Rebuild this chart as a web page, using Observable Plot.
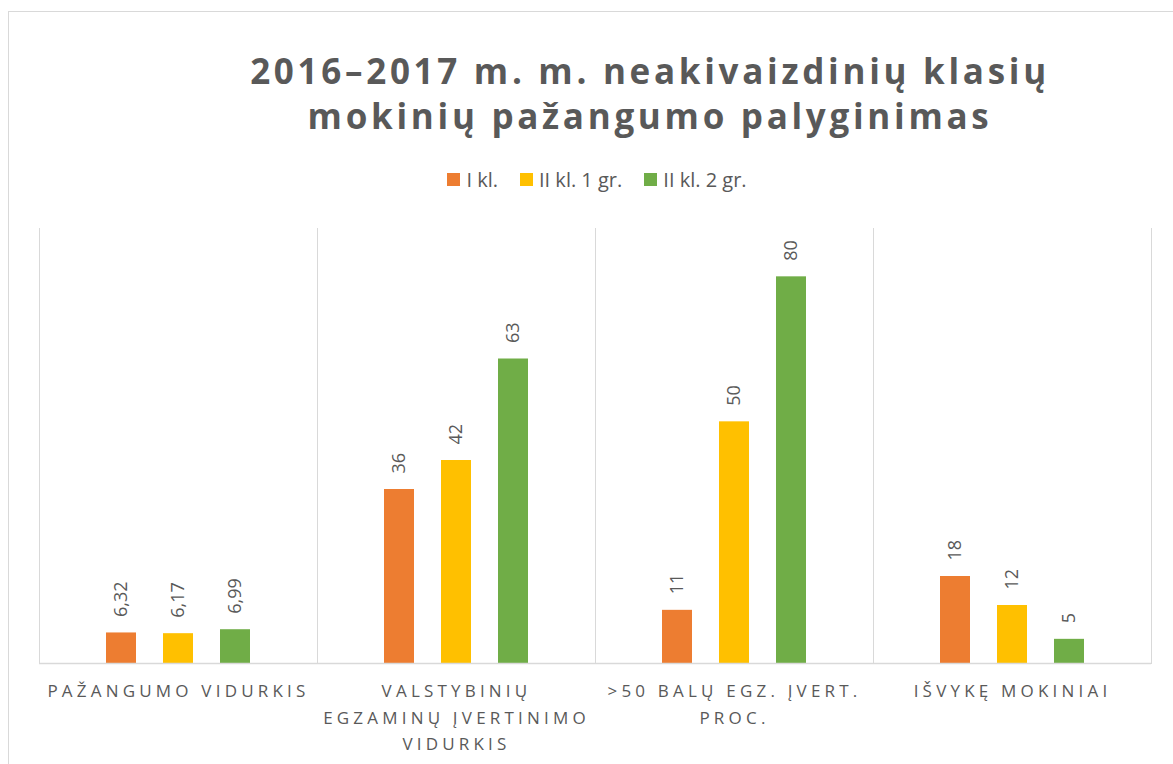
<!DOCTYPE html>
<html>
<head>
<meta charset="utf-8">
<script src="https://cdn.jsdelivr.net/npm/d3@7"></script>
<script src="https://cdn.jsdelivr.net/npm/@observablehq/plot@0.6"></script>
<style>
  html, body { margin: 0; padding: 0; background: #fff; }
  body { font-family: "Open Sans", sans-serif; }
  #wrap { position: relative; width: 1173px; height: 764px; overflow: hidden; }
  #border { position: absolute; left: 8px; top: 11px; width: 1300px; height: 900px; border: 1px solid #d9d9d9; box-sizing: border-box; }
  #title { position: absolute; left: 0; top: 48px; width: 1300px; text-align: center; font-weight: 700; font-size: 35px; line-height: 45px; color: #595959; letter-spacing: 3.7px; }
  #legend { position: absolute; left: 0; top: 166px; width: 1194px; display: flex; justify-content: center; gap: 22px; font-size: 20px; color: #595959; }
  #legend .item { display: flex; align-items: center; gap: 6px; }
  #legend .sw { width: 13px; height: 13px; display: inline-block; }
  #chart { position: absolute; left: 0; top: 200px; }
  g[aria-label="fx-axis tick label"] text { letter-spacing: 4.2px; }
</style>
</head>
<body>
<div id="wrap">
  <div id="border"></div>
  <div id="title">2016–2017 m. m. neakivaizdinių klasių<br>mokinių pažangumo palyginimas</div>
  <div id="legend"></div>
  <div id="chart"></div>
</div>
<script>
const categories = ["PAŽANGUMO VIDURKIS", "VALSTYBINIŲ EGZAMINŲ ĮVERTINIMO VIDURKIS", ">50 BALŲ EGZ. ĮVERT. PROC.", "IŠVYKĘ MOKINIAI"];
const categoryLines = ["PAŽANGUMO VIDURKIS", "VALSTYBINIŲ\nEGZAMINŲ ĮVERTINIMO\nVIDURKIS", ">50 BALŲ EGZ. ĮVERT.\nPROC.", "IŠVYKĘ MOKINIAI"];
const series = ["I kl.", "II kl. 1 gr.", "II kl. 2 gr."];
const valuesIkl = [6.32, 36, 11, 18];
const valuesIIkl1 = [6.17, 42, 50, 12];
const valuesIIkl2 = [6.99, 63, 80, 5];
const colors = ["#ED7D31", "#FFC000", "#70AD47"];

const seriesValues = [valuesIkl, valuesIIkl1, valuesIIkl2];
const data = [];
categories.forEach((c, ci) => {
  series.forEach((s, si) => {
    data.push({cat: c, series: s, value: seriesValues[si][ci]});
  });
});
const fmt = v => String(v).replace(".", ",");

// legend
const legend = document.getElementById("legend");
series.forEach((s, i) => {
  const it = document.createElement("div");
  it.className = "item";
  const sw = document.createElement("span");
  sw.className = "sw";
  sw.style.background = colors[i];
  const t = document.createElement("span");
  t.textContent = s;
  it.appendChild(sw); it.appendChild(t);
  legend.appendChild(it);
});

const chart = Plot.plot({
  width: 1173,
  height: 564,
  marginTop: 28,
  marginBottom: 101,
  marginLeft: 38,
  marginRight: 21,
  style: {fontFamily: "Open Sans", background: "transparent"},
  fx: {domain: categories, padding: 0, label: null},
  x: {domain: series, paddingInner: 0.478, paddingOuter: 1.16, axis: null},
  y: {domain: [0, 90], axis: null},
  color: {domain: series, range: colors},
  marks: [
    Plot.frame({anchor: "left", stroke: "#d9d9d9"}),
    Plot.frame({anchor: "right", stroke: "#d9d9d9"}),
    Plot.barY(data, {fx: "cat", x: "series", y: "value", fill: "series"}),
    Plot.ruleY([0], {stroke: "#d9d9d9", strokeWidth: 1.5}),
    Plot.text(data, {fx: "cat", x: "series", y: "value", text: d => fmt(d.value), rotate: -90, textAnchor: "start", dy: -16, fontSize: 18, fill: "#595959"}),
    Plot.axisFx({anchor: "bottom", tickSize: 0, tickPadding: 15, fontSize: 17, lineHeight: 1.56, fill: "#595959", label: null,
      tickFormat: c => categoryLines[categories.indexOf(c)]})
  ]
});
document.getElementById("chart").appendChild(chart);
</script>
</body>
</html>
